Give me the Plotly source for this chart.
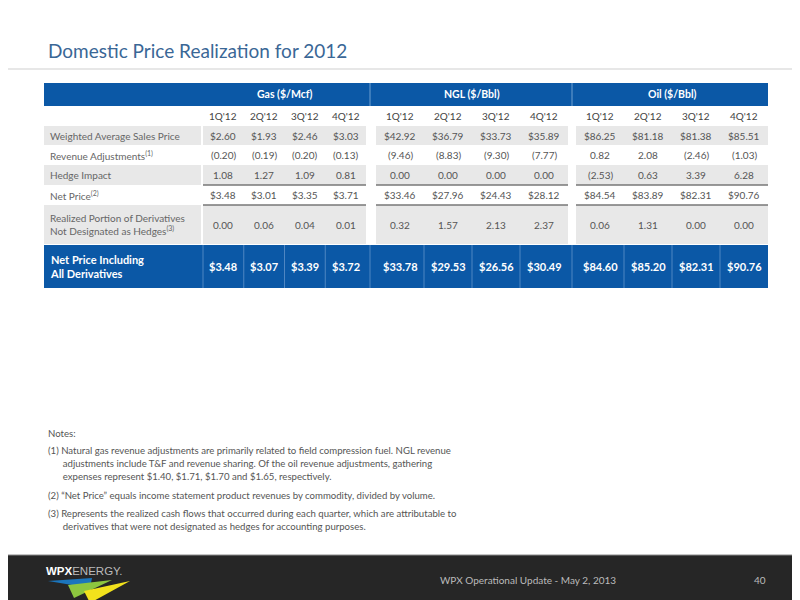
import plotly.graph_objects as go

title = 'Domestic Price Realization for 2012'
groups = ['Gas ($/Mcf)', 'NGL ($/Bbl)', 'Oil ($/Bbl)']
quarters = ["1Q '12", "2Q '12", "3Q '12", "4Q '12"]
row_labels = ['Weighted Average Sales Price', 'Revenue Adjustments<sup>(1)</sup>', 'Hedge Impact',
              'Net Price<sup>(2)</sup>',
              'Realized Portion of Derivatives<br>Not Designated as Hedges<sup>(3)</sup>']
total_label = 'Net Price Including<br>All Derivatives'

gas = [['$2.60', '$1.93', '$2.46', '$3.03'],
       ['(0.20)', '(0.19)', '(0.20)', '(0.13)'],
       ['1.08', '1.27', '1.09', '0.81'],
       ['$3.48', '$3.01', '$3.35', '$3.71'],
       ['0.00', '0.06', '0.04', '0.01']]
ngl = [['$42.92', '$36.79', '$33.73', '$35.89'],
       ['(9.46)', '(8.83)', '(9.30)', '(7.77)'],
       ['0.00', '0.00', '0.00', '0.00'],
       ['$33.46', '$27.96', '$24.43', '$28.12'],
       ['0.32', '1.57', '2.13', '2.37']]
oil = [['$86.25', '$81.18', '$81.38', '$85.51'],
       ['0.82', '2.08', '(2.46)', '(1.03)'],
       ['(2.53)', '0.63', '3.39', '6.28'],
       ['$84.54', '$83.89', '$82.31', '$90.76'],
       ['0.06', '1.31', '0.00', '0.00']]
gas_total = ['$3.48', '$3.07', '$3.39', '$3.72']
ngl_total = ['$33.78', '$29.53', '$26.56', '$30.49']
oil_total = ['$84.60', '$85.20', '$82.31', '$90.76']

notes = [
    'Notes:',
    '(1) Natural gas revenue adjustments are primarily related to field compression fuel. NGL revenue',
    '      adjustments include T&F and revenue sharing. Of the oil revenue adjustments, gathering',
    '      expenses represent $1.40, $1.71, $1.70 and $1.65, respectively.',
    '(2) \u201cNet Price\u201d equals income statement product revenues by commodity, divided by volume.',
    '(3) Represents the realized cash flows that occurred during each quarter, which are attributable to',
    '      derivatives that were not designated as hedges for accounting purposes.',
]
note_y = [425, 442, 455, 468, 487, 505, 518]
footer = 'WPX Operational Update - May 2, 2013'
page = '40'

# layout geometry (pixel space)
FONT = 'Lato'
BLUE = '#0b58a6'
GRAY = '#e8e8e8'
TXT = '#555555'
group_x = [(195, 358), (368, 560), (568, 760)]
label_x = (36, 193)
rows_y = [(118, 137), (137, 157), (157, 177), (177, 197), (197, 236)]
gray_rows = [0, 2, 4]

shapes, ann = [], []


def rect(x0, y0, x1, y1, color, line=None):
    shapes.append(dict(type='rect', x0=x0, x1=x1, y0=y0, y1=y1, fillcolor=color,
                       line=dict(width=0) if line is None else line, layer='below'))


def text(x, y, s, size=10, color=TXT, xanchor='center', bold=False, family=FONT):
    if bold:
        s = '<b>' + s + '</b>'
    ann.append(dict(x=x, y=y, text=s, showarrow=False, xanchor=xanchor, yanchor='middle',
                    font=dict(family=family, size=size, color=color), align='left'))


# title
text(38, 42, title, size=19, color='#3a6796', xanchor='left')
shapes.append(dict(type='line', x0=0, x1=800, y0=61, y1=61, line=dict(color='#cfcfcf', width=1)))

# header band
rect(36, 75, 760, 98, BLUE)
for gx in (362, 564):
    shapes.append(dict(type='line', x0=gx, x1=gx, y0=75, y1=98, line=dict(color='#6f9fd0', width=1)))
for (x0, x1), g in zip(group_x, groups):
    text((x0 + x1) / 2, 86, g, size=10.5, color='white', bold=True)

# quarter headers
for (x0, x1) in group_x:
    w = (x1 - x0) / 4
    for i, q in enumerate(quarters):
        text(x0 + w * (i + 0.5), 108, q.replace(' ', ''), size=10, color='#444444')

# body rows
for r, (y0, y1) in enumerate(rows_y):
    if r in gray_rows:
        rect(label_x[0], y0, label_x[1], y1, GRAY)
        for (x0, x1) in group_x:
            rect(x0, y0, x1, y1, GRAY)
    text(40, (y0 + y1) / 2, row_labels[r], size=10, color='#666666', xanchor='left')
    for (x0, x1), data in zip(group_x, [gas, ngl, oil]):
        w = (x1 - x0) / 4
        for i in range(4):
            text(x0 + w * (i + 0.5), (y0 + y1) / 2, data[r][i], size=10)

# separator lines above/below net price
for y in (177, 197):
    for (x0, x1) in group_x:
        shapes.append(dict(type='line', x0=x0, x1=x1, y0=y, y1=y, line=dict(color='#777777', width=1.5)))

# total row
rect(36, 237, 760, 280, BLUE)
text(40, 258, total_label, size=11, color='white', xanchor='left', bold=True)
for (x0, x1), data in zip(group_x, [gas_total, ngl_total, oil_total]):
    w = (x1 - x0) / 4
    for i in range(4):
        text(x0 + w * (i + 0.5), 258, data[i], size=11, color='white', bold=True)
        if i > 0:
            shapes.append(dict(type='line', x0=x0 + w * i, x1=x0 + w * i, y0=237, y1=280,
                               line=dict(color='#4f86c2', width=1)))
for gx in (195, 362, 564):
    shapes.append(dict(type='line', x0=gx, x1=gx, y0=237, y1=280, line=dict(color='#4f86c2', width=1)))

# notes
for s, y in zip(notes, note_y):
    text(38, y, s.replace('&', '&amp;'), size=9.6, color='#555555', xanchor='left')

# footer
rect(0, 547, 800, 600, '#262626')
shapes.append(dict(type='line', x0=0, x1=800, y0=547, y1=547, line=dict(color='#888888', width=1)))
text(36, 563, '<b>WPX</b><span style="color:#bbbbbb">ENERGY.</span>', size=11.5, color='white',
     xanchor='left', family='Liberation Sans')
shapes.append(dict(type='path', path='M 40 573 L 84 570 L 82 580 Z', fillcolor='#1b75bc', line=dict(width=0)))
shapes.append(dict(type='path', path='M 60 577 L 104 572 L 66 590 Z', fillcolor='#8dc63f', line=dict(width=0)))
shapes.append(dict(type='path', path='M 76 583 L 122 573 L 82 595 Z', fillcolor='#f2e21c', line=dict(width=0)))
text(520, 572, footer, size=10, color='#bbbbbb', family='Lato')
text(752, 572, page, size=10, color='#bbbbbb', family='Lato')

fig = go.Figure()
fig.update_layout(width=800, height=600, margin=dict(l=0, r=0, t=0, b=0),
                  paper_bgcolor='white', plot_bgcolor='white', showlegend=False,
                  shapes=shapes, annotations=ann,
                  xaxis=dict(range=[0, 800], visible=False, fixedrange=True),
                  yaxis=dict(range=[600, 0], visible=False, fixedrange=True))
fig.write_html('out.html')
